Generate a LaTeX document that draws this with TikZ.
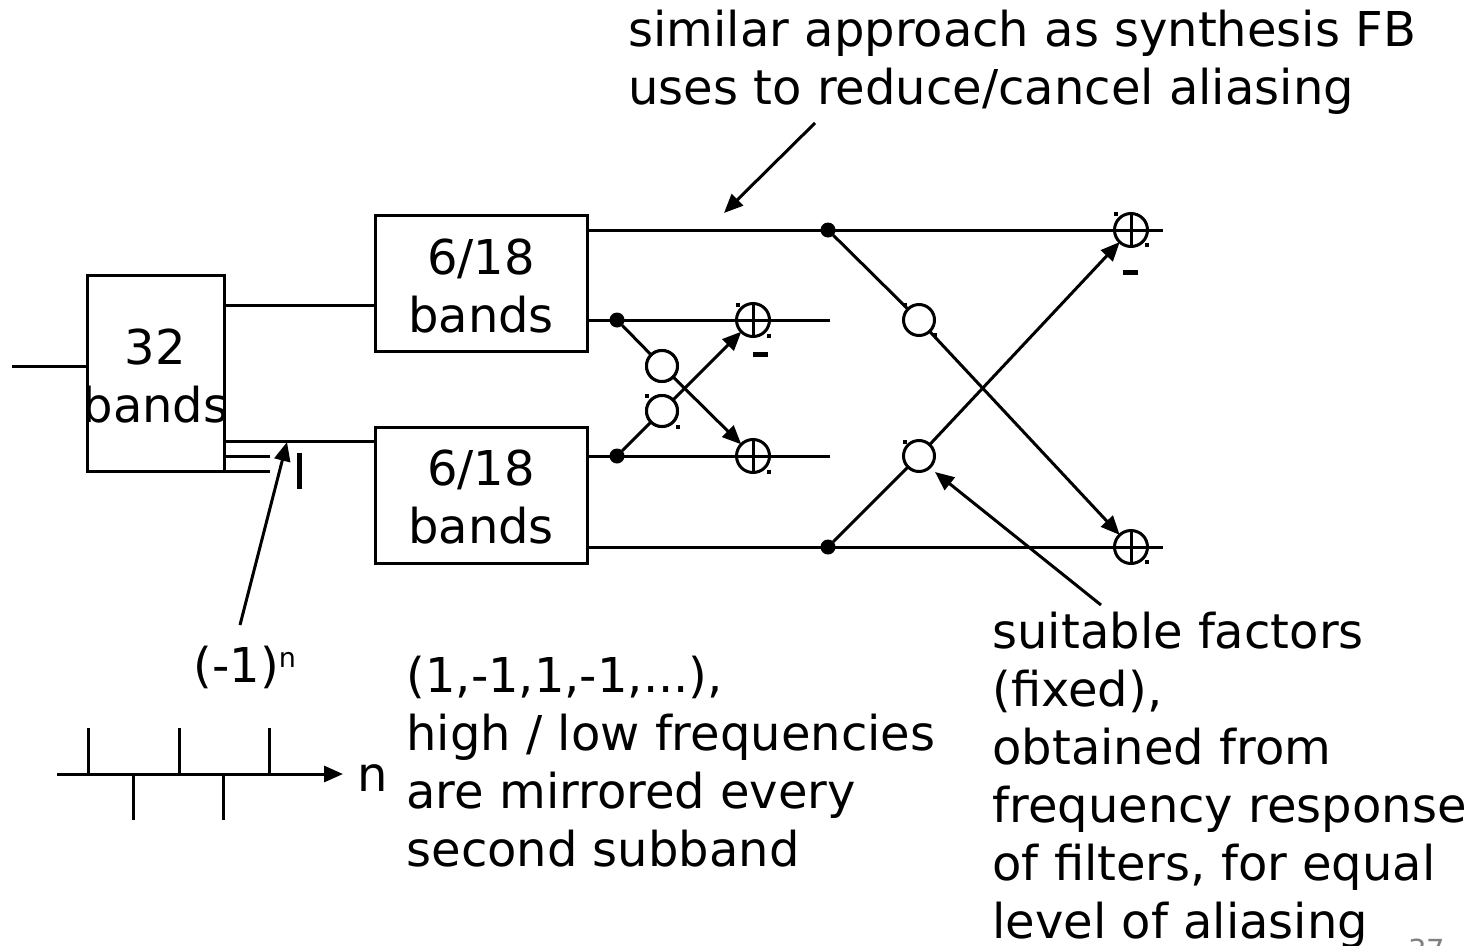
\documentclass[tikz,border=0pt]{standalone}
\usepackage{fontspec}
\setmainfont{DejaVu Sans}
\usetikzlibrary{arrows.meta}
\newcommand{\bigtext}{\fontsize{48}{58}\selectfont}
\tikzset{
  x=1pt,y=-1pt,
  lbl/.style={font=\bigtext,inner sep=0pt,align=left,anchor=north west},
  clbl/.style={font=\bigtext,inner sep=0pt,align=center,anchor=center},
  blockbox/.style={draw,inner sep=0pt,outer sep=0pt,minimum width=#1},
  mulnode/.style={draw,circle,inner sep=0pt,outer sep=0pt,minimum size=31pt,fill=white},
  sumnode/.style={draw,circle,inner sep=0pt,outer sep=0pt,minimum size=33pt},
  junction/.style={fill,circle,inner sep=0pt,outer sep=0pt,minimum size=15pt},
  arr/.style={-{Triangle[length=19pt,width=16pt]}},
  speck/.style={fill,inner sep=0pt,minimum size=4pt},
  minusbar/.style={fill,inner sep=0pt,minimum width=15pt,minimum height=5pt},
}
\begin{document}
\begin{tikzpicture}[line width=3pt]
\useasboundingbox (0,0) rectangle (1483,945);
% boxes
\node[blockbox=137pt,minimum height=196pt] (b32) at (155.5,373) {};
\node[blockbox=212pt,minimum height=136pt] (bt) at (481,283) {};
\node[blockbox=212pt,minimum height=136pt] (bb) at (481,495) {};
\node[clbl] (t32) at (155.5,376) {32\\bands};
\node[clbl] (ttop) at (481,286) {6/18\\bands};
\node[clbl] (tbot) at (481,497) {6/18\\bands};
% free ends
\coordinate (in) at (12,366);
\coordinate (inb) at (87,366);
\coordinate (a1) at (224,305); \coordinate (a2) at (375,305);
\coordinate (c1) at (224,441); \coordinate (c2) at (375,441);
\coordinate (d1) at (224,456); \coordinate (d2) at (270,456);
\coordinate (e1) at (224,471); \coordinate (e2) at (270,471);
\draw (in) -- (inb);
\draw (a1) -- (a2);
\draw (c1) -- (c2);
\draw (d1) -- (d2);
\draw (e1) -- (e2);
\node[fill,inner sep=0pt,minimum width=5.5pt,minimum height=36pt] (bar) at (299.5,471) {};
% junctions and nodes
\node[junction] (j1) at (617,320) {};
\node[junction] (j2) at (617,456) {};
\node[junction] (j3) at (828,230) {};
\node[junction] (j4) at (828,547) {};
\node[mulnode] (m1) at (662,366) {};
\node[mulnode] (m2) at (662,411) {};
\node[mulnode] (m3) at (919,320) {};
\node[mulnode] (m4) at (919,456) {};
\node[sumnode] (s1) at (753,320) {};
\node[sumnode] (s2) at (753,456) {};
\node[sumnode] (s3) at (1131,230) {};
\node[sumnode] (s4) at (1131,547) {};
\foreach \s in {s1,s2,s3,s4}{\draw (\s.north) -- (\s.south);}
% horizontal lines
\coordinate (h1a) at (587,230); \coordinate (h1b) at (1163,230);
\coordinate (h2a) at (587,320); \coordinate (h2b) at (830,320);
\coordinate (h3a) at (587,456); \coordinate (h3b) at (830,456);
\coordinate (h4a) at (587,547); \coordinate (h4b) at (1163,547);
\draw (h1a) -- (h1b);
\draw (h2a) -- (h2b);
\draw (h3a) -- (h3b);
\draw (h4a) -- (h4b);
% butterflies
\draw (j1) -- (m1);
\draw[arr] (m1) -- (s2);
\draw (j2) -- (m2);
\draw[arr] (m2) -- (s1);
\draw (j3) -- (m3);
\draw[arr] (m3) -- (s4);
\draw (j4) -- (m4);
\draw[arr] (m4) -- (s3);
\node[mulnode] at (m1) {};
\node[mulnode] at (m2) {};
% minus bars
\node[minusbar] (mb1) at (760.5,354.5) {};
\node[minusbar] (mb2) at (1130,272.5) {};
% specks
\foreach \px/\py in {738/305,769/336,769/472,647/396,678/427,905/305,935/335,905/442,1116/214,1147/245,1147/562}{
  \node[speck] at (\px,\py) {};
}
% annotation arrows
\node[lbl] (top) at (627,9) {similar approach as synthesis FB\\uses to reduce/cancel aliasing};
\coordinate (p1) at (815,123); \coordinate (p2) at (724,213);
\draw[arr] (p1) -- (p2);
\node[lbl,anchor=west] (pow) at (192,667) {(-1)\raisebox{15pt}{\fontsize{27}{27}\selectfont n}};
\coordinate (q1) at (240,625); \coordinate (q2) at (287,442);
\draw[arr] (q1) -- (q2);
\node[lbl] (right) at (991,611) {suitable factors\\(fixed),\\obtained from\\frequency response\\of filters, for equal\\level of aliasing};
\coordinate (r1) at (1101,605); \coordinate (r2) at (935,472);
\draw[arr] (r1) -- (r2);
% axis
\coordinate (ax1) at (57,774); \coordinate (ax2) at (343,774);
\draw[arr] (ax1) -- (ax2);
\foreach \tx/\ty in {88/728,179/728,269/728,133/820,223/820}{
  \draw (\tx,774) -- (\tx,\ty);
}
\node[clbl] (nlab) at (373,778) {n};
\node[lbl] (mid) at (405,655) {(1,-1,1,-1,...),\\high / low frequencies\\are mirrored every\\second subband};
\node[font=\fontsize{29}{29}\selectfont,text=gray,inner sep=0pt,anchor=base west] (page) at (1407,960) {37};
\end{tikzpicture}
\end{document}
